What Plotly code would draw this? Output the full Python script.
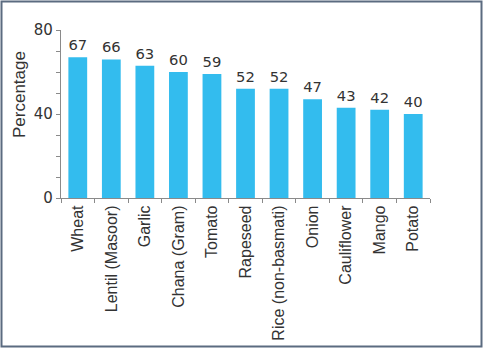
import plotly.graph_objects as go

categories = ["Wheat", "Lentil (Masoor)", "Garlic", "Chana (Gram)", "Tomato", "Rapeseed",
              "Rice (non-basmati)", "Onion", "Cauliflower", "Mango", "Potato"]
values = [67, 66, 63, 60, 59, 52, 52, 47, 43, 42, 40]
y_ticks = [0, 40, 80]

W, H = 484, 349
L, R, T, B = 61, 54, 30, 151
pw, ph = W - L - R, H - T - B

def px_x(px):
    return (px - L) / pw

def px_y(py):
    return (H - B - py) / ph

fig = go.Figure(go.Bar(
    x=categories, y=values,
    marker=dict(color="#33BCEE", line=dict(width=0)),
    width=0.56,
    text=[str(v) for v in values],
    textposition="outside",
    textfont=dict(family="DejaVu Sans", size=15, color="#333333"),
    cliponaxis=False,
))

fig.update_layout(
    width=W, height=H,
    margin=dict(l=L, r=R, t=T, b=B),
    paper_bgcolor="white", plot_bgcolor="white",
    showlegend=False,
    bargap=0.44,
    xaxis=dict(
        automargin=False,
        showline=True, linecolor="#8a8a8a", linewidth=1.2,
        ticks="outside", tickson="boundaries", ticklen=4, tickcolor="#8a8a8a",
        tickangle=-90,
        tickfont=dict(family="Liberation Sans", size=16, color="#333333"),
        showgrid=False,
    ),
    yaxis=dict(
        automargin=False,
        range=[0, 80], tickvals=y_ticks,
        showline=True, linecolor="#8a8a8a", linewidth=1.2,
        ticks="outside", ticklen=4, tickcolor="#8a8a8a",
        minor=dict(ticks="outside", dtick=10, ticklen=4, tickcolor="#8a8a8a", showgrid=False),
        tickfont=dict(family="DejaVu Sans", size=15, color="#333333"),
        showgrid=False, zeroline=False,
    ),
    annotations=[dict(
        text="Percentage", textangle=-90, showarrow=False,
        xref="paper", yref="paper", x=px_x(19), y=px_y(95),
        xanchor="center", yanchor="middle",
        font=dict(family="Liberation Sans", size=17, color="#333333"),
    )],
    shapes=[dict(
        type="rect", xref="paper", yref="paper",
        x0=px_x(1.5), x1=px_x(481.5), y0=px_y(346.5), y1=px_y(1.5),
        line=dict(color="#5B6B80", width=2), fillcolor="rgba(0,0,0,0)",
        layer="above",
    )],
)

fig.write_html("out.html")
